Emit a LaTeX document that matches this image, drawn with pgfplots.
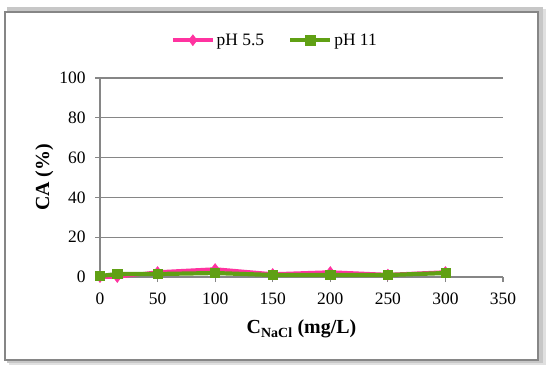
\documentclass[border=0pt]{standalone}
\usepackage{pgfplots}
\pgfplotsset{compat=1.18}
\usepackage{fontspec}
\setmainfont{Liberation Serif}
\definecolor{pinkc}{RGB}{255,51,160}
\definecolor{greenc}{RGB}{96,160,20}
\definecolor{gridc}{RGB}{134,134,134}
\begin{document}
\begin{tikzpicture}[x=1bp,y=1bp]
\path (0,0) rectangle (550,365);
% shadow
\fill[black!12] (9,0) rectangle (546,356);
\fill[black!22] (7,2) rectangle (543,358);
\fill[white,draw=gridc,line width=1.4bp] (5,5) rectangle (538,353);
\begin{axis}[
  at={(100bp,88bp)}, anchor=south west,
  scale only axis, width=403bp, height=199bp,
  xmin=0, xmax=350, ymin=0, ymax=100,
  xtick={0,50,...,350}, ytick={0,20,...,100},
  axis x line=bottom, axis y line=left,
  axis line style={draw=gridc, line width=1.2bp, -},
  tick align=outside, major tick length=5bp,
  tick style={draw=gridc, line width=1.2bp},
  ymajorgrids, grid style={draw=gridc, line width=1.2bp},
  /pgf/number format/assume math mode=true,
  ticklabel style={font=\fontsize{17.5}{19}\selectfont},
  xticklabel style={yshift=-7bp},
  yticklabel style={xshift=-6bp},
  xlabel={\textbf{C\textsubscript{NaCl} (mg/L)}},
  ylabel={\textbf{CA (\%)}},
  label style={font=\fontsize{20}{22}\selectfont},
  xlabel style={yshift=-9bp},
  ylabel style={yshift=-1bp},
  legend style={at={(0.434,1.19)}, anchor=center, draw=none, fill=none,
    legend columns=2, font=\fontsize{17.5}{19}\selectfont,
    /tikz/every even column/.append style={column sep=22bp}},
  legend image code/.code={
    \draw[mark repeat=2,mark phase=2] plot coordinates {(0bp,0bp) (20bp,0bp) (40bp,0bp)};},
  clip=false,
]
\addplot[color=pinkc, line width=3.6bp, mark=diamond*, mark size=5.5bp,
  mark options={fill=pinkc, line width=0.5bp}]
  coordinates {(0,0) (15,0) (50,2.5) (100,4) (150,1.5) (200,2.5) (250,1.2) (300,2.5)};
\addlegendentry{pH 5.5}
\addplot[color=greenc, line width=4.2bp, mark=square*, mark size=4.6bp,
  mark options={fill=greenc, line width=0.5bp}]
  coordinates {(0,0.5) (15,1.5) (50,1.5) (100,2) (150,1) (200,1) (250,1) (300,2)};
\addlegendentry{pH 11}
\end{axis}
\end{tikzpicture}
\end{document}
